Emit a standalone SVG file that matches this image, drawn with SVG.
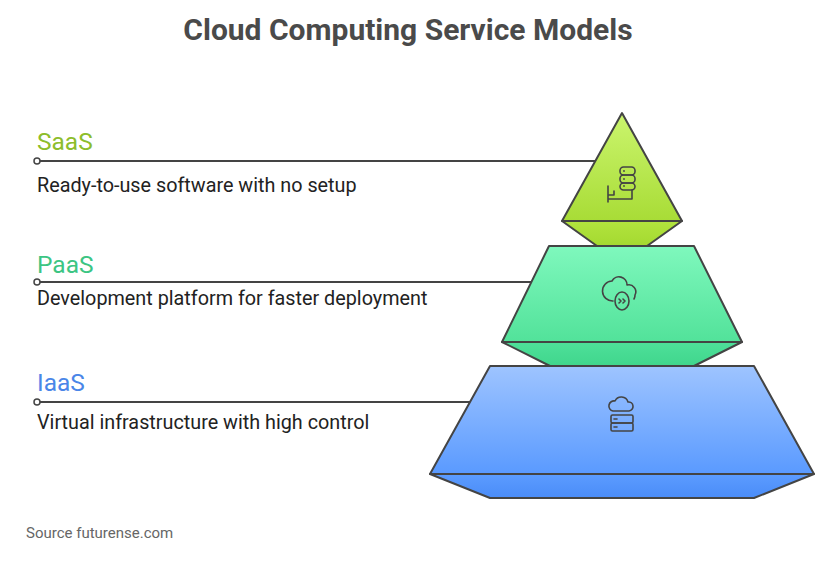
<svg xmlns="http://www.w3.org/2000/svg" width="839" height="563" viewBox="0 0 839 563">
<defs>
<linearGradient id="gS" x1="0" y1="0" x2="0" y2="1"><stop offset="0" stop-color="#CBF56E"/><stop offset="1" stop-color="#A8DC36"/></linearGradient>
<linearGradient id="gS2" x1="0" y1="0" x2="0" y2="1"><stop offset="0" stop-color="#B2E43E"/><stop offset="1" stop-color="#A4D930"/></linearGradient>
<linearGradient id="gP" x1="0" y1="0" x2="0" y2="1"><stop offset="0" stop-color="#7FF8BD"/><stop offset="1" stop-color="#52E29A"/></linearGradient>
<linearGradient id="gP2" x1="0" y1="0" x2="0" y2="1"><stop offset="0" stop-color="#4EE09A"/><stop offset="1" stop-color="#40D68C"/></linearGradient>
<linearGradient id="gI" x1="0" y1="0" x2="0" y2="1"><stop offset="0" stop-color="#9EC4FF"/><stop offset="1" stop-color="#5A9AFF"/></linearGradient>
<linearGradient id="gI2" x1="0" y1="0" x2="0" y2="1"><stop offset="0" stop-color="#5C9CFF"/><stop offset="1" stop-color="#4A8CF8"/></linearGradient>
</defs>
<style>
.s{stroke:#444;stroke-width:2;stroke-linejoin:round}
.ic{fill:none;stroke:#444;stroke-width:1.6;stroke-linecap:round;stroke-linejoin:round}
.ln{stroke:#444;stroke-width:2;fill:none}
.dot{fill:#fff;stroke:#444;stroke-width:1.5}
.t{font-family:Roboto,"Liberation Sans",sans-serif}
.h{font-size:24.5px}
.d{font-size:19.8px;fill:#222}
</style>
<text x="408" y="40" text-anchor="middle" class="t" font-size="30" font-weight="bold" fill="#4a4a4a">Cloud Computing Service Models</text>
<g id="connectors">
<line class="ln" x1="37" y1="161" x2="596" y2="161"/>
<line class="ln" x1="37" y1="282" x2="531" y2="282"/>
<line class="ln" x1="37" y1="402" x2="470" y2="402"/>
<circle class="dot" cx="37" cy="161" r="3"/>
<circle class="dot" cx="37" cy="282" r="3"/>
<circle class="dot" cx="37" cy="402" r="3"/>
</g>
<g id="iaas">
<polygon class="s" fill="url(#gI2)" points="430,474 814,474 754,498 490,498"/>
<polygon class="s" fill="url(#gI)" points="490,366 754,366 814,474 430,474"/>
<path class="ic" d="M613,411 a5,5 0 0 1 2,-10 a7,7 0 0 1 13,1 a4.5,4.5 0 0 1 1,9 z"/>
<rect class="ic" x="611" y="415" width="22" height="8" rx="1.5"/>
<rect class="ic" x="611" y="423" width="22" height="8" rx="1.5"/>
<path class="ic" d="M614,419h3M614,427h3"/>
<text x="37" y="391" class="t h" fill="#4A86E8">IaaS</text>
<text x="37" y="429" class="t d">Virtual infrastructure with high control</text>
</g>
<g id="paas">
<polygon class="s" fill="url(#gP2)" points="502,342 742,342 694,366 550,366"/>
<polygon class="s" fill="url(#gP)" points="549,246 694,246 742,342 502,342"/>
<path class="ic" d="M613,301 a10,10 0 0 1 -1,-20 a8,8 0 0 1 15,4 a7,7 0 0 1 8,10 a7,7 0 0 1 -1,4"/>
<ellipse class="ic" cx="622" cy="301" rx="7" ry="9"/>
<path class="ic" d="M619,299l2,2-2,2M623,299l2,2-2,2"/>
<text x="37" y="273" class="t h" fill="#3CC583">PaaS</text>
<text x="37" y="305" class="t d">Development platform for faster deployment</text>
</g>
<g id="saas">
<polygon class="s" fill="url(#gS2)" points="562,221 682,221 647,246 597,246"/>
<polygon class="s" fill="url(#gS)" points="622,113 682,221 562,221"/>
<rect class="ic" x="620" y="167" width="15" height="8" rx="3.5"/>
<rect class="ic" x="620" y="175" width="15" height="8" rx="3.5"/>
<rect class="ic" x="620" y="183" width="15" height="7" rx="3.5"/>
<circle cx="624" cy="171" r="0.9" fill="#444"/><circle cx="624" cy="179" r="0.9" fill="#444"/><circle cx="624" cy="186" r="0.9" fill="#444"/>
<path class="ic" d="M608,186v16M608,195h6v-4M608,199h24v-9"/>
<text x="37" y="150" class="t h" fill="#8DBD2C">SaaS</text>
<text x="37" y="192" class="t d">Ready-to-use software with no setup</text>
</g>
<text x="26" y="538" class="t" font-size="15" fill="#666">Source futurense.com</text>
</svg>
